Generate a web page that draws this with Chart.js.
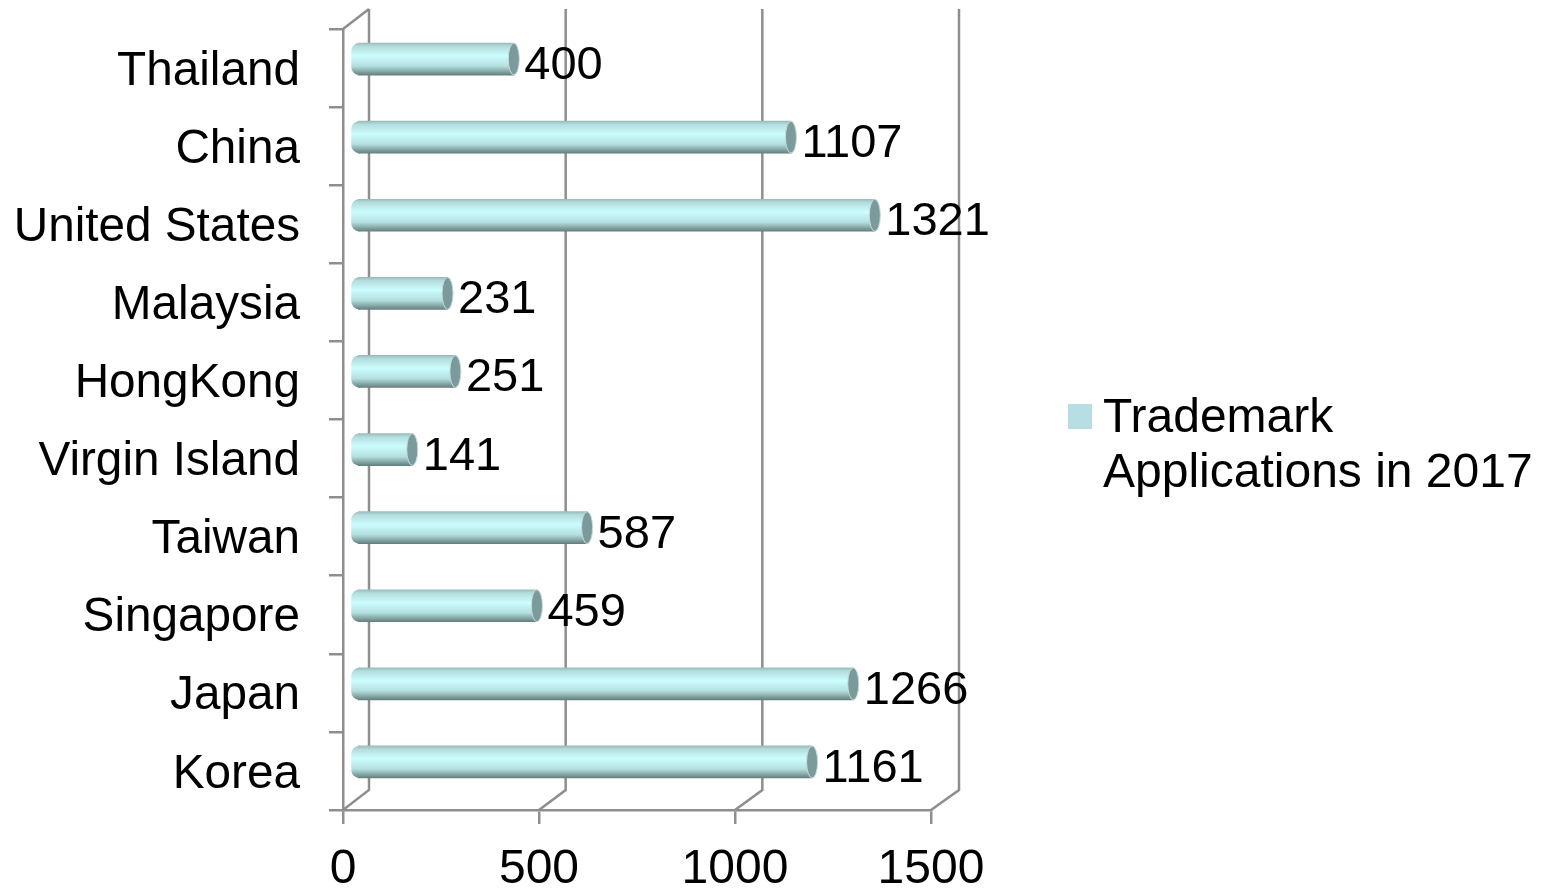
<!DOCTYPE html>
<html>
<head>
<meta charset="utf-8">
<title>Trademark Applications in 2017</title>
<script src="https://cdn.jsdelivr.net/npm/chart.js@4"></script>
<style>
body { margin: 0; background: #fff; }
canvas { display: block; }
</style>
</head>
<body>
<canvas id="myChart" width="1546" height="891"></canvas>
<script>
var categories = ['Thailand', 'China', 'United States', 'Malaysia', 'HongKong', 'Virgin Island', 'Taiwan', 'Singapore', 'Japan', 'Korea'];
var applications = [400, 1107, 1321, 231, 251, 141, 587, 459, 1266, 1161];
var xTicks = [0, 500, 1000, 1500];
var seriesName = 'Trademark Applications in 2017';
var legendLines = ['Trademark', 'Applications in 2017'];

var FONT = '48px "Liberation Sans"';
var VALUE_FONT = '47px "Liberation Sans"';
var LINE = '#8e8e8e';
var LINE_WIDTH = 2.5;
var DEPTH_Y = 20;
var BAR_DX = 14;
var BAR_DY = -9;

// back wall sits a bit wider than the front edge
function backX(px, left) {
    return px + 26 + (px - left) * 2 / 588;
}

function barGradient(ctx, y) {
    var g = ctx.createLinearGradient(0, y - 16, 0, y + 16);
    g.addColorStop(0, '#98bcbc');
    g.addColorStop(0.1, '#b4dcdc');
    g.addColorStop(0.4, '#ccfdfe');
    g.addColorStop(0.72, '#b4dfdf');
    g.addColorStop(0.9, '#82a2a2');
    g.addColorStop(1, '#64807f');
    return g;
}

// back wall of the 3D box, drawn behind the bars
var wallPlugin = {
    id: 'wall',
    beforeDatasetsDraw: function(chart) {
        var ctx = chart.ctx;
        var a = chart.chartArea;
        var x = chart.scales.x;
        ctx.save();
        ctx.strokeStyle = LINE;
        ctx.lineWidth = LINE_WIDTH;
        ctx.beginPath();
        xTicks.forEach(function(t) {
            var px = x.getPixelForValue(t);
            ctx.moveTo(px, a.bottom);
            ctx.lineTo(backX(px, a.left), a.bottom - DEPTH_Y);
            ctx.lineTo(backX(px, a.left), a.top - DEPTH_Y);
        });
        ctx.moveTo(a.left, a.top);
        ctx.lineTo(backX(a.left, a.left), a.top - DEPTH_Y);
        ctx.stroke();
        ctx.restore();
    }
};

// moves the bars into the box and gives them round ends
var cylinderPlugin = {
    id: 'cylinder',
    beforeDatasetDraw: function(chart, args) {
        var ctx = chart.ctx;
        ctx.save();
        ctx.translate(BAR_DX, BAR_DY);
        chart.getDatasetMeta(args.index).data.forEach(function(bar) {
            ctx.fillStyle = barGradient(ctx, bar.y);
            ctx.beginPath();
            ctx.roundRect(bar.base - 7, bar.y - 16, 9, 32, [8, 0, 0, 8]);
            ctx.fill();
        });
    },
    afterDatasetDraw: function(chart, args) {
        var ctx = chart.ctx;
        chart.getDatasetMeta(args.index).data.forEach(function(bar) {
            ctx.fillStyle = '#7b9a9c';
            ctx.strokeStyle = '#c4dcdc';
            ctx.lineWidth = 1;
            ctx.beginPath();
            ctx.ellipse(bar.x, bar.y, 5.5, 16, 0, 0, Math.PI * 2);
            ctx.fill();
            ctx.stroke();
        });
        ctx.restore();
    }
};

var labelPlugin = {
    id: 'labels',
    afterDraw: function(chart) {
        var ctx = chart.ctx;
        ctx.save();
        ctx.font = VALUE_FONT;
        ctx.fillStyle = '#000';
        ctx.textBaseline = 'alphabetic';
        ctx.textAlign = 'left';
        chart.getDatasetMeta(0).data.forEach(function(bar, i) {
            ctx.fillText(applications[i], bar.x + BAR_DX + 10.5, bar.y + BAR_DY + 20);
        });
        // legend has a wrapped label, the built in one can't do that
        ctx.font = FONT;
        ctx.fillStyle = '#b7dfe3';
        ctx.fillRect(1068, 404, 24, 25);
        ctx.fillStyle = '#000';
        legendLines.forEach(function(line, i) {
            ctx.fillText(line, 1103, 432 + i * 55);
        });
        ctx.restore();
    }
};

var ctx = document.getElementById('myChart').getContext('2d');

var myChart = new Chart(ctx, {
    type: 'bar',
    data: {
        labels: categories,
        datasets: [{
            label: seriesName,
            data: applications,
            barThickness: 32,
            clip: false,
            backgroundColor: function(c) {
                if (c.dataIndex === undefined || !c.chart.chartArea) {
                    return '#b7dfe3';
                }
                return barGradient(c.chart.ctx, c.chart.scales.y.getPixelForValue(c.dataIndex));
            }
        }]
    },
    plugins: [wallPlugin, cylinderPlugin, labelPlugin],
    options: {
        indexAxis: 'y',
        responsive: false,
        animation: false,
        events: [],
        layout: {
            padding: { top: 29, right: 615, left: 0, bottom: 0 }
        },
        plugins: {
            legend: { display: false },
            tooltip: { enabled: false }
        },
        scales: {
            x: {
                type: 'linear',
                min: 0,
                max: 1500,
                afterFit: function(scale) { scale.height = 81; },
                ticks: {
                    stepSize: 500,
                    color: '#000',
                    padding: 17,
                    maxRotation: 0,
                    format: { useGrouping: false },
                    font: { family: 'Liberation Sans', size: 48 }
                },
                border: { color: LINE, width: LINE_WIDTH },
                grid: { color: LINE, lineWidth: LINE_WIDTH, drawOnChartArea: false, tickLength: 14 }
            },
            y: {
                afterFit: function(scale) {
                    scale.width = 343;
                    scale.paddingTop = 0;
                    scale.paddingBottom = 0;
                },
                ticks: {
                    color: '#000',
                    padding: 29,
                    autoSkip: false,
                    labelOffset: 3.5,
                    font: { family: 'Liberation Sans', size: 47.7 }
                },
                border: { color: LINE, width: LINE_WIDTH },
                grid: { color: LINE, lineWidth: LINE_WIDTH, drawOnChartArea: false, tickLength: 14 }
            }
        }
    }
});
</script>
</body>
</html>
